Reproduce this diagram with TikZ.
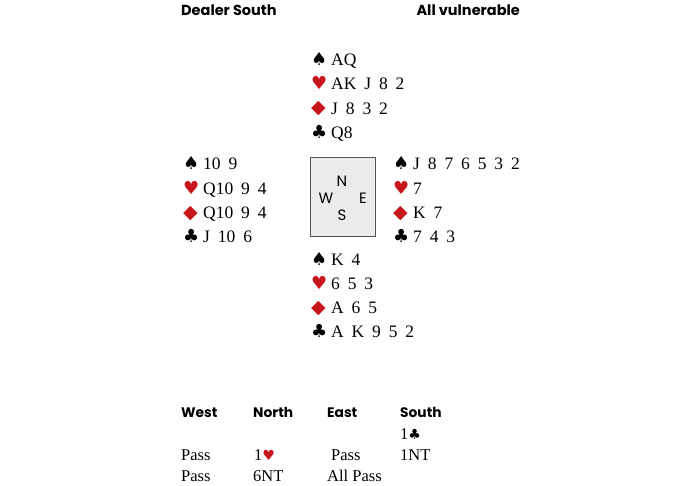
\documentclass[tikz,border=0pt]{standalone}
\usepackage{fontspec}
\usepackage{xcolor}
\setmainfont{Liberation Serif}
\newfontfamily\cardfont{Liberation Serif}[WordSpace=1.8]
\newfontfamily\headfont{Poppins}
\newfontfamily\suitfont{DejaVu Sans}
\usetikzlibrary{positioning}

\definecolor{suitred}{HTML}{C8161D}
\definecolor{tablefill}{HTML}{EBEBEB}
\definecolor{tableline}{HTML}{555555}

% suit symbols in a fixed-width box so the cards line up
\newcommand{\spd}{\makebox[20pt][l]{\suitfont\fontsize{18}{18}\selectfont ♠}}
\newcommand{\hrt}{\makebox[20pt][l]{\color{suitred}\suitfont\fontsize{18}{18}\selectfont ♥}}
\newcommand{\dmd}{\makebox[20pt][l]{\color{suitred}\suitfont\fontsize{19}{19}\selectfont\raisebox{0.3pt}{◆}}}
\newcommand{\clb}{\makebox[20pt][l]{\suitfont\fontsize{18}{18}\selectfont ♣}}
% small suits for the bidding
\newcommand{\bidhrt}{{\color{suitred}\suitfont\fontsize{14}{14}\selectfont ♥}}
\newcommand{\bidclb}{{\suitfont\fontsize{14}{14}\selectfont ♣}}

\begin{document}
\begin{tikzpicture}
	[x=1pt, y=-1pt, node distance=24.2pt,
	 hand/.style={anchor=base west, inner sep=0pt, font=\cardfont\fontsize{17.5}{17.5}\selectfont},
	 head/.style={inner sep=0pt, font=\headfont\bfseries\fontsize{14.5}{14.5}\selectfont},
	 bidhead/.style={anchor=base west, inner sep=0pt, font=\headfont\bfseries\fontsize{13.8}{13.8}\selectfont},
	 bid/.style={anchor=base west, inner sep=0pt, font=\fontsize{16.5}{16.5}\selectfont},
	 compass/.style={inner sep=0pt, font=\headfont\fontsize{15}{15}\selectfont},
	 table/.style={draw=tableline, fill=tablefill, line width=1pt, minimum width=65pt, minimum height=78pt, inner sep=0pt}]
   \useasboundingbox (0,0) rectangle (700,486);

   % title line
   \node[head, anchor=base west] (dealer) at (181,16) {Dealer South};
   \node[head, anchor=base east] (vul) at (520,16) {All vulnerable};

   % north
   \node[hand] (north-s) at (311,65.7) {\spd AQ};
   \node[hand] (north-h) [below=of north-s.base west, anchor=base west] {\hrt AK J 8 2};
   \node[hand] (north-d) [below=of north-h.base west, anchor=base west] {\dmd J 8 3 2};
   \node[hand] (north-c) [below=of north-d.base west, anchor=base west] {\clb Q8};

   % west
   \node[hand] (west-s) at (183,170) {\spd 10 9};
   \node[hand] (west-h) [below=of west-s.base west, anchor=base west] {\hrt Q10 9 4};
   \node[hand] (west-d) [below=of west-h.base west, anchor=base west] {\dmd Q10 9 4};
   \node[hand] (west-c) [below=of west-d.base west, anchor=base west] {\clb J 10 6};

   % east
   \node[hand] (east-s) at (393,170) {\spd J 8 7 6 5 3 2};
   \node[hand] (east-h) [below=of east-s.base west, anchor=base west] {\hrt 7};
   \node[hand] (east-d) [below=of east-h.base west, anchor=base west] {\dmd K 7};
   \node[hand] (east-c) [below=of east-d.base west, anchor=base west] {\clb 7 4 3};

   % south
   \node[hand] (south-s) at (311,265) {\spd K 4};
   \node[hand] (south-h) [below=of south-s.base west, anchor=base west] {\hrt 6 5 3};
   \node[hand] (south-d) [below=of south-h.base west, anchor=base west] {\dmd A 6 5};
   \node[hand] (south-c) [below=of south-d.base west, anchor=base west] {\clb A K 9 5 2};

   % the table
   \node[table] (table) at (342.5,197) {};
   \node[compass] (cn) at (342,181) {N};
   \node[compass] (cw) at (326,198) {W};
   \node[compass] (ce) at (363,198) {E};
   \node[compass] (cs) at (342,215) {S};

   % bidding
   \node[bidhead] (bw) at (181,417.7) {West};
   \node[bidhead] (bn) at (253,417.7) {North};
   \node[bidhead] (be) at (327,417.7) {East};
   \node[bidhead] (bs) at (400,417.7) {South};

   \node[bid] (b1s) at (400,439) {1\bidclb};
   \node[bid] (b2w) at (181,460.3) {Pass};
   \node[bid] (b2n) at (254,460.3) {1\bidhrt};
   \node[bid] (b2e) at (331,460.3) {Pass};
   \node[bid] (b2s) at (400,460.3) {1NT};
   \node[bid] (b3w) at (181,481) {Pass};
   \node[bid] (b3n) at (253,481) {6NT};
   \node[bid] (b3e) at (327,481) {All Pass};

\end{tikzpicture}
\end{document}
